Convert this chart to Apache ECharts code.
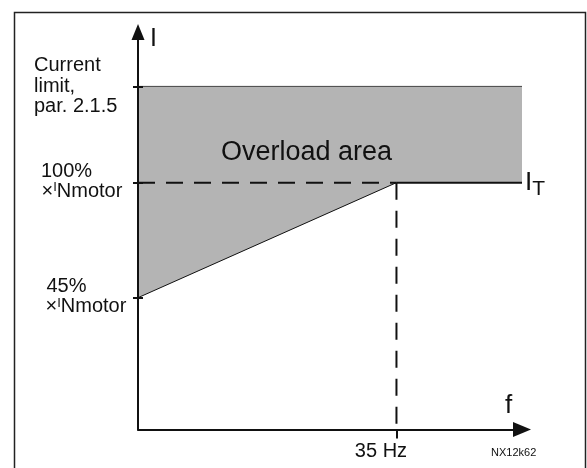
<!DOCTYPE html>
<html><head><meta charset="utf-8">
<script src="https://cdn.jsdelivr.net/npm/echarts@6/dist/echarts.min.js"></script>
<style>html,body{margin:0;padding:0;background:#fff}#c{width:587px;height:468px}</style>
</head><body><div id="c"></div>
<script>
// ---- data ----
const freqHz = [0, 35, 52];            // f: origin, knee (35 Hz), end of drawn curve
const itCurve = [45, 100, 100];        // I_T in % of I_Nmotor at freqHz
const currentLimit = 146;              // current limit (par. 2.1.5), same % scale
const yTickValues = [45, 100, 146];
const xTickValues = [35];
const xRange = [0, 52];
const yRange = [-18, 172];
const xTickLabels = {35: '35 Hz'};
const yTickLabels = {
  146: '{c|Current}\n{c|limit,}\n{c|par. 2.1.5}',
  100: '{p100|100%}\n{x100|×}{i|I}{n|Nmotor}',
  45: '{p45|45%}\n{x45|×}{i|I}{n|Nmotor}'
};
const areaName = 'Overload area';
const figureId = 'NX12k62';

const FONT = '"Liberation Sans", Arial, Helvetica, sans-serif';
const INK = '#111';
const chart = echarts.init(document.getElementById('c'), null, {renderer: 'canvas'});

const last = freqHz.length - 1;
const dashed = [17, 11];

const option = {
  animation: false,
  backgroundColor: '#fff',
  textStyle: {fontFamily: FONT, color: INK},
  grid: {left: 138, right: 65, top: 32, bottom: 38.5, containLabel: false, outerBoundsMode: 'none'},
  xAxis: {
    type: 'value', min: xRange[0], max: xRange[1], z: 5,
    splitLine: {show: false},
    axisLine: {show: true, onZero: false, symbol: ['none', 'triangle'], symbolSize: [15, 18],
      lineStyle: {color: INK, width: 2}},
    axisTick: {show: true, customValues: xTickValues, length: 9, inside: false,
      lineStyle: {color: INK, width: 2}},
    axisLabel: {show: true, customValues: xTickValues, margin: 12,
      formatter: v => '{h|' + xTickLabels[v] + '}',
      rich: {h: {fontSize: 20, lineHeight: 20, fontFamily: FONT, color: INK, padding: [0, 31, 0, 0]}}}
  },
  yAxis: [{
    type: 'value', min: yRange[0], max: yRange[1], position: 'left', z: 5,
    splitLine: {show: false},
    axisLine: {show: true, onZero: false, symbol: ['none', 'triangle'], symbolSize: [13, 16],
      lineStyle: {color: INK, width: 2}},
    axisTick: {show: true, customValues: yTickValues, length: 5, inside: false,
      lineStyle: {color: INK, width: 2}},
    axisLabel: {show: true, customValues: yTickValues, margin: 104, align: 'left',
      formatter: v => yTickLabels[v],
      rich: {
        c: {fontSize: 20, lineHeight: 20.5, fontFamily: FONT, color: INK},
        p100: {fontSize: 20, lineHeight: 24.7, verticalAlign: 'bottom', fontFamily: FONT, color: INK, padding: [0, 0, 0, 7]},
        p45: {fontSize: 20, lineHeight: 24.7, verticalAlign: 'bottom', fontFamily: FONT, color: INK, padding: [0, 0, 0, 12.5]},
        x100: {fontSize: 20, lineHeight: 18.2, verticalAlign: 'top', fontFamily: FONT, color: INK, padding: [0, 0, 0, 7.5]},
        x45: {fontSize: 20, lineHeight: 18.2, verticalAlign: 'top', fontFamily: FONT, color: INK, padding: [0, 0, 0, 11.5]},
        i: {fontSize: 13, lineHeight: 13, verticalAlign: 'top', fontFamily: FONT, color: INK},
        n: {fontSize: 20, lineHeight: 27.2, verticalAlign: 'top', fontFamily: FONT, color: INK}
      }}
  }, {
    type: 'value', min: yRange[0], max: yRange[1], position: 'left', offset: 0, z: 5,
    splitLine: {show: false},
    axisLine: {show: false, onZero: false},
    axisTick: {show: true, customValues: yTickValues, length: 5, inside: true,
      lineStyle: {color: INK, width: 2}},
    axisLabel: {show: false}
  }],
  graphic: [
    {type: 'rect', left: 12, top: 10, z: 100, silent: true,
      shape: {x: 0, y: 0, width: 571, height: 500},
      style: {fill: 'none', stroke: '#222', lineWidth: 1.5}},
    {type: 'text', x: 221, y: 153, z: 100, silent: true,
      style: {text: areaName, font: '27px ' + FONT, fill: INK, verticalAlign: 'middle', align: 'left'}},
    {type: 'text', x: 150, y: 39, z: 100, silent: true,
      style: {text: 'I', font: '25px ' + FONT, fill: INK, verticalAlign: 'middle', align: 'left'}},
    {type: 'text', x: 505, y: 406, z: 100, silent: true,
      style: {text: 'f', font: '26px ' + FONT, fill: INK, verticalAlign: 'middle', align: 'left'}},
    {type: 'text', x: 491, y: 452.5, z: 100, silent: true,
      style: {text: figureId, font: '11px ' + FONT, fill: INK, verticalAlign: 'middle', align: 'left'}}
  ],
  series: [
    {
      name: 'overload', type: 'custom', coordinateSystem: 'cartesian2d', z: 1, silent: true,
      data: [[freqHz[0], currentLimit]],
      renderItem: function (params, api) {
        const pts = [api.coord([freqHz[0], currentLimit]), api.coord([freqHz[last], currentLimit])];
        for (let k = last; k >= 0; k--) pts.push(api.coord([freqHz[k], itCurve[k]]));
        return {type: 'polygon', shape: {points: pts}, style: {fill: '#b4b4b4'}};
      }
    },
    {
      name: 'limit', type: 'line', z: 2, symbol: 'none', silent: true,
      data: [[freqHz[0], currentLimit], [freqHz[last], currentLimit]],
      lineStyle: {color: '#444', width: 1}
    },
    {
      name: 'slope', type: 'line', z: 3, symbol: 'none', silent: true,
      data: [[freqHz[0], itCurve[0]], [freqHz[1], itCurve[1]]],
      lineStyle: {color: INK, width: 1}
    },
    {
      name: 'IT', type: 'line', z: 3, symbol: 'none', silent: true,
      data: freqHz.slice(1).map((f, k) => [f, itCurve[k + 1]]),
      lineStyle: {color: INK, width: 2},
      endLabel: {show: true, distance: 3, formatter: '{i|I}{t|T}',
        rich: {
          i: {fontSize: 26, lineHeight: 34, verticalAlign: 'middle', fontFamily: FONT, color: INK},
          t: {fontSize: 21, lineHeight: 21, verticalAlign: 'bottom', fontFamily: FONT, color: INK}
        }}
    },
    {
      name: 'dashH', type: 'line', z: 3, symbol: 'none', silent: true,
      data: [[freqHz[0], itCurve[1]], [freqHz[1], itCurve[1]]],
      lineStyle: {color: INK, width: 2, type: dashed}
    },
    {
      name: 'dashV', type: 'line', z: 3, symbol: 'none', silent: true,
      data: [[freqHz[1], itCurve[1]], [freqHz[1], yRange[0]]],
      lineStyle: {color: INK, width: 2, type: dashed}
    }
  ]
};
chart.setOption(option);
</script>
</body></html>
